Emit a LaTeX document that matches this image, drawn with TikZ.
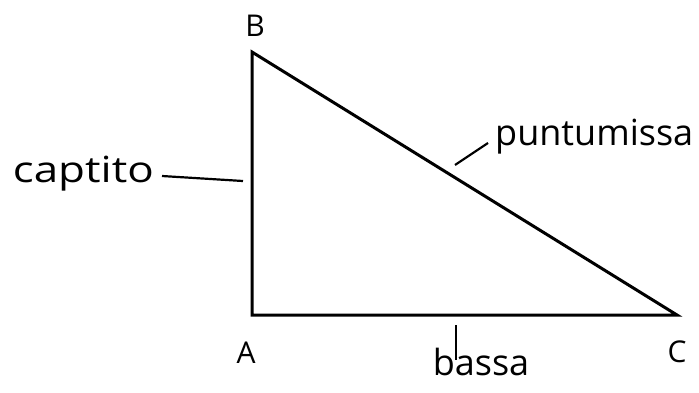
\documentclass[tikz,border=0pt]{standalone}
\usepackage{fontspec}
\setmainfont{Open Sans}
\tikzset{
  side/.style={line width=3pt, line join=miter},
  leader/.style={line width=2.2pt},
  vertex/.style={font=\fontsize{30}{32}\selectfont, inner sep=0pt},
  word/.style={font=\fontsize{36}{38}\selectfont, inner sep=0pt}
}
\begin{document}
\begin{tikzpicture}[x=1pt, y=-1pt]
  \useasboundingbox (0,0) rectangle (699,392);
  % corners of the triangle
  \coordinate (A) at (252,315);
  \coordinate (B) at (252,52);
  \coordinate (C) at (677,315);
  \draw[side] (A) -- (B) -- (C) -- cycle;
  % vertex letters
  \node[vertex] (lblB) at (255,26) {B};
  \node[vertex] (lblA) at (246,353) {A};
  \node[vertex] (lblC) at (677,352) {C};
  % side names
  \node[word, anchor=base east] (captito) at (154,182) {\scalebox{1.22}[1]{captito}};
  \coordinate (captstart) at (162,176);
  \coordinate (captend) at (243,181);
  \draw[leader] (captstart) -- (captend);
  \node[word, anchor=base west] (puntu) at (495,145) {puntumissa};
  \coordinate (puntustart) at (488,143);
  \coordinate (puntuend) at (455,165);
  \draw[leader] (puntustart) -- (puntuend);
  \node[word, anchor=base] (bassa) at (481,375) {bassa};
  \coordinate (bassatop) at (456,325);
  \coordinate (bassabot) at (456,360);
  \draw[leader] (bassatop) -- (bassabot);
\end{tikzpicture}
\end{document}
